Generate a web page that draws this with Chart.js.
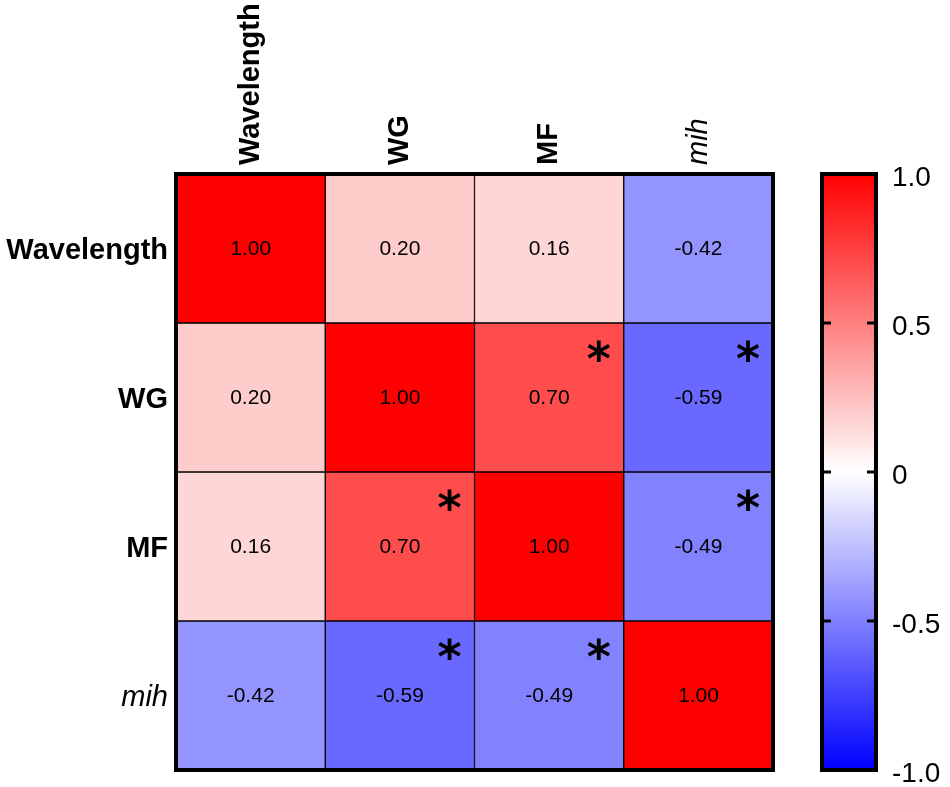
<!DOCTYPE html>
<html>
<head>
<meta charset="utf-8">
<script src="https://cdn.jsdelivr.net/npm/chart.js@4.4.1/dist/chart.umd.min.js"></script>
<style>
  html, body { margin: 0; padding: 0; background: #fff; }
  #wrap { position: relative; width: 950px; height: 787px; }
  #heatBox { position: absolute; left: 0; top: 0; width: 950px; height: 787px; }
  #barBox { position: absolute; left: 800px; top: 0; width: 150px; height: 787px; }
</style>
</head>
<body>
<div id="wrap">
  <div id="heatBox"><canvas id="heatChart"></canvas></div>
  <div id="barBox"><canvas id="scaleChart"></canvas></div>
</div>
<script>
// Variables (rows and columns of the correlation matrix)
const categories = ['Wavelength', 'WG', 'MF', 'mih'];

// Correlation values, one array per row
const corrWavelength = [1.00, 0.20, 0.16, -0.42];
const corrWG         = [0.20, 1.00, 0.70, -0.59];
const corrMF         = [0.16, 0.70, 1.00, -0.49];
const corrMih        = [-0.42, -0.59, -0.49, 1.00];

// Significance markers (asterisks), one array per row
const sigWavelength = [false, false, false, false];
const sigWG         = [false, false, true, true];
const sigMF         = [false, true, false, true];
const sigMih        = [false, true, true, false];

// Colour bar ticks
const scaleTicks = [-1, -0.5, 0, 0.5, 1];
const scaleTickLabels = ['-1.0', '-0.5', '0', '0.5', '1.0'];

const corrRows = [corrWavelength, corrWG, corrMF, corrMih];
const sigRows = [sigWavelength, sigWG, sigMF, sigMih];

const FONT = "'Liberation Sans', Arial, Helvetica, sans-serif";

// blue -> white -> red
function colorFor(v) {
    const k = Math.round(255 * (1 - Math.min(Math.abs(v), 1)));
    return v >= 0 ? `rgb(255, ${k}, ${k})` : `rgb(${k}, ${k}, 255)`;
}

// Cell values + asterisks + heavy outer frame
const heatDecor = {
    id: 'heatDecor',
    afterDatasetsDraw(chart) {
        const { ctx, chartArea, scales } = chart;
        const xs = scales.x, ys = scales.y;
        const cellW = (chartArea.right - chartArea.left) / categories.length;
        const cellH = (chartArea.bottom - chartArea.top) / categories.length;
        ctx.save();
        ctx.fillStyle = '#000';
        ctx.textAlign = 'center';
        corrRows.forEach((row, i) => {
            row.forEach((v, j) => {
                const cx = xs.getPixelForValue(j);
                const cy = ys.getPixelForValue(i + 0.5);
                ctx.textBaseline = 'middle';
                ctx.font = `21px ${FONT}`;
                ctx.fillText(v.toFixed(2), cx, cy + 1);
                if (sigRows[i][j]) {
                    ctx.textBaseline = 'alphabetic';
                    ctx.font = `bold 46px 'DejaVu Sans', sans-serif`;
                    ctx.fillText('*', cx + cellW / 2 - 25, cy - cellH / 2 + 52);
                }
            });
        });
        ctx.lineWidth = 4;
        ctx.strokeStyle = '#000';
        ctx.strokeRect(chartArea.left, chartArea.top, chartArea.right - chartArea.left, chartArea.bottom - chartArea.top);
        ctx.restore();
    }
};

const heatDatasets = corrRows.map((row, i) => ({
    label: categories[i],
    data: row.map(() => [i, i + 1]),
    backgroundColor: row.map(colorFor),
    borderColor: '#000',
    borderWidth: 1,
    borderSkipped: false,
    barPercentage: 1,
    categoryPercentage: 1,
    grouped: false
}));

const labelFont = (c) => ({
    family: FONT,
    size: 29,
    weight: c.index === 3 ? 'normal' : 'bold',
    style: c.index === 3 ? 'italic' : 'normal'
});

new Chart(document.getElementById('heatChart'), {
    type: 'bar',
    data: { labels: categories, datasets: heatDatasets },
    options: {
        responsive: true,
        maintainAspectRatio: false,
        animation: false,
        layout: { padding: { left: 0, top: 0, right: 177, bottom: 17 } },
        plugins: { legend: { display: false }, tooltip: { enabled: false } },
        scales: {
            x: {
                type: 'category',
                position: 'top',
                grid: { display: false, drawTicks: false },
                border: { display: false },
                afterFit(scale) {
                    scale.height = 174;
                    scale.paddingLeft = 0;
                    scale.paddingRight = 0;
                },
                ticks: {
                    autoSkip: false,
                    minRotation: 90,
                    maxRotation: 90,
                    padding: 9,
                    labelOffset: 35,
                    color: '#000',
                    font: labelFont
                }
            },
            y: {
                type: 'linear',
                min: 0,
                max: 4,
                reverse: true,
                grid: { display: false, drawTicks: false },
                border: { display: false },
                afterFit(scale) {
                    scale.width = 176;
                    scale.paddingTop = 0;
                    scale.paddingBottom = 0;
                },
                afterBuildTicks(scale) {
                    scale.ticks = categories.map((c, i) => ({ value: i + 0.5 }));
                },
                ticks: {
                    autoSkip: false,
                    padding: 8,
                    labelOffset: 2,
                    color: '#000',
                    callback: (v) => categories[Math.floor(v)],
                    font: labelFont
                }
            }
        }
    },
    plugins: [heatDecor]
});

// Colour bar frame + inner tick marks
const scaleDecor = {
    id: 'scaleDecor',
    afterDatasetsDraw(chart) {
        const { ctx, chartArea, scales } = chart;
        ctx.save();
        ctx.strokeStyle = '#000';
        ctx.lineWidth = 3;
        scaleTicks.forEach(v => {
            if (Math.abs(v) === 1) return;
            const y = scales.y.getPixelForValue(v);
            ctx.beginPath();
            ctx.moveTo(chartArea.left, y);
            ctx.lineTo(chartArea.left + 9, y);
            ctx.moveTo(chartArea.right - 9, y);
            ctx.lineTo(chartArea.right, y);
            ctx.stroke();
        });
        ctx.lineWidth = 4;
        ctx.strokeRect(chartArea.left, chartArea.top, chartArea.right - chartArea.left, chartArea.bottom - chartArea.top);
        ctx.restore();
    }
};

new Chart(document.getElementById('scaleChart'), {
    type: 'bar',
    data: {
        labels: ['r'],
        datasets: [{
            data: [[-1, 1]],
            borderWidth: 0,
            barPercentage: 1,
            categoryPercentage: 1,
            backgroundColor: (c) => {
                const area = c.chart.chartArea;
                if (!area) return '#fff';
                const g = c.chart.ctx.createLinearGradient(0, area.bottom, 0, area.top);
                g.addColorStop(0, '#0000ff');
                g.addColorStop(0.5, '#ffffff');
                g.addColorStop(1, '#ff0000');
                return g;
            }
        }]
    },
    options: {
        responsive: true,
        maintainAspectRatio: false,
        animation: false,
        layout: { padding: { left: 22, top: 174, right: 0, bottom: 17 } },
        plugins: { legend: { display: false }, tooltip: { enabled: false } },
        scales: {
            x: { display: false },
            y: {
                type: 'linear',
                position: 'right',
                min: -1,
                max: 1,
                grid: { display: false, drawTicks: false },
                border: { display: false },
                afterFit(scale) {
                    scale.width = 74;
                    scale.paddingTop = 0;
                    scale.paddingBottom = 0;
                },
                afterBuildTicks(scale) {
                    scale.ticks = scaleTicks.map(v => ({ value: v }));
                },
                ticks: {
                    padding: 16,
                    labelOffset: 4,
                    color: '#000',
                    font: { family: FONT, size: 28 },
                    callback: (v) => scaleTickLabels[scaleTicks.indexOf(v)]
                }
            }
        }
    },
    plugins: [scaleDecor]
});
</script>
</body>
</html>
